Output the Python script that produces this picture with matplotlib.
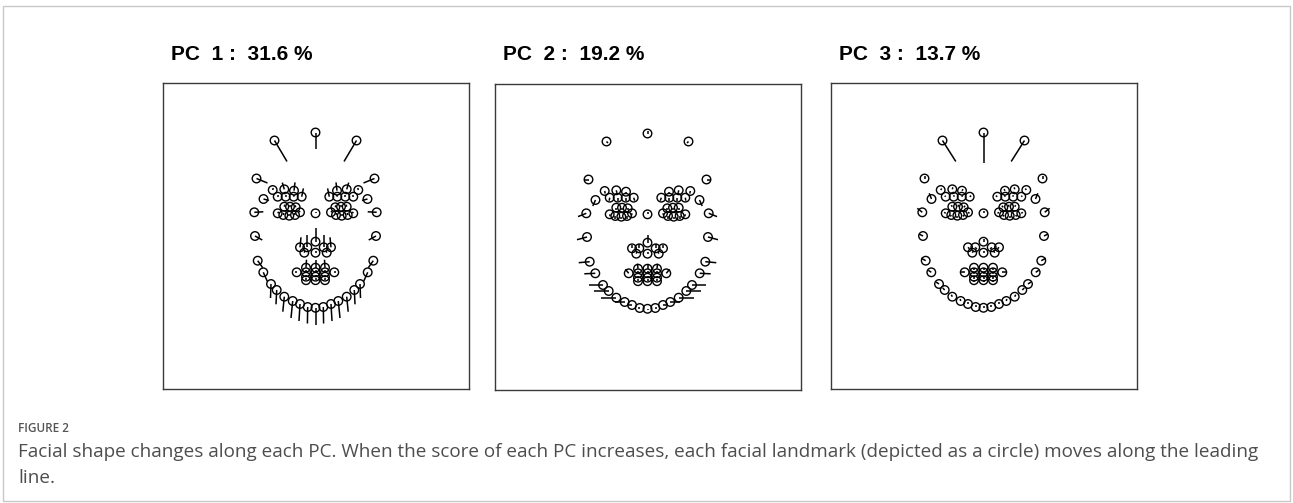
import matplotlib.pyplot as plt
from matplotlib.patches import Rectangle

# Mean landmark positions (pixels inside a 306 x 306 panel, y downwards).
# Midline landmarks share one x; side landmarks are given for the left half
# and mirrored to the right.
mid_x = 152.5
mid_y = [49.5, 130.3, 158.7, 169.7, 184.7, 189.3, 193.7, 197.2, 224.8]

side_x = [111.5, 93.5, 109.7, 121.3, 131.0, 114.7, 122.7, 130.7, 138.7, 100.5,
          121.3, 127.0, 132.7, 114.7, 120.3, 126.3, 132.0, 137.0, 91.3, 92.0,
          137.0, 144.3, 141.3, 133.7, 143.0, 143.0, 143.0, 143.0,
          94.7, 100.3, 108.0, 113.7, 121.3, 129.7, 137.0, 144.7]
side_y = [57.5, 95.5, 107.0, 106.3, 107.7, 113.7, 113.7, 113.7, 113.7, 116.0,
          123.7, 123.7, 124.3, 130.3, 132.0, 132.7, 132.0, 129.3, 129.3, 153.0,
          164.3, 164.3, 169.7, 189.3, 184.7, 189.3, 193.7, 197.2,
          177.7, 189.3, 201.0, 207.0, 213.7, 218.0, 221.0, 224.0]

# Shift of each landmark as the PC score increases
pc1_mid_dy = [16.5, -1.5, -13.5, -2.0, -8.0, -2.0, -2.0, -2.0, 17.5]
pc1_side_dx = [12.5, 11.0, 0.5, -2.0, 1.0, 0.0, 0.0, 0.5, 1.7, 5.5,
               0.5, 0.0, -0.5, 1.0, 0.5, 0.0, -0.5, -1.0, 9.0, 7.3,
               1.0, 0.0, 0.5, -2.0, 0.5, 0.0, 0.0, 0.0,
               5.0, 4.0, -0.5, -0.7, -1.5, -1.7, -1.0, -0.3]
pc1_side_dy = [21.0, 4.5, -2.0, -6.7, -8.3, -2.0, -2.0, -2.0, -8.3, 1.5,
               -2.0, -2.0, -2.0, -1.5, -2.0, -2.0, -2.0, -1.5, -0.5, 4.0,
               -10.0, -12.0, -2.0, 0.0, -8.0, -2.0, -2.0, -2.0,
               7.0, 9.0, 14.0, 14.3, 15.0, 17.0, 17.0, 16.5]

pc2_mid_dy = [-2.5, -2.0, -7.5, -2.0, -5.0, -2.0, -2.0, -2.0, 1.5]
pc2_side_dx = [1.5, -4.5, 0.5, 0.5, 0.0, -0.5, 0.0, 0.0, 1.0, -2.7,
               0.0, 0.0, 0.0, 0.5, 0.0, 0.0, 0.0, -0.5, -8.3, -10.0,
               0.0, 0.0, 0.5, -3.3, -0.5, 0.0, 0.0, 0.0,
               -11.0, -11.0, -14.0, -15.0, -15.0, -10.0, -5.0, -2.0]
pc2_side_dy = [1.5, 0.0, 2.5, 2.5, 2.5, 3.0, 3.0, 3.0, 3.0, 6.0,
               2.0, 2.0, 2.0, 2.0, 2.5, 2.5, 2.5, 2.0, 3.3, 2.7,
               -3.5, -4.0, -2.0, -4.0, -5.0, -2.0, -2.0, -2.0,
               1.0, 0.5, 0.0, 0.0, 0.0, 0.0, 0.0, 0.0]

pc3_mid_dy = [30.0, -2.0, -2.5, -2.0, 2.0, 2.0, 2.0, 2.0, -2.0]
pc3_side_dx = [13.3, 0.0, 1.0, 0.5, 1.0, -1.0, 0.5, 1.0, 1.5, -2.3,
               -1.0, 0.5, 1.5, -1.5, -1.0, 0.0, 1.0, 1.5, -5.0, -4.0,
               1.5, 1.5, 1.5, -4.0, 0.0, 0.0, 0.0, 0.0,
               -4.5, -3.0, -3.0, -2.0, -1.0, -0.5, 0.0, 0.0]
pc3_side_dy = [21.0, -2.5, -1.5, -2.0, -1.5, -1.0, -1.5, -1.5, -1.0, -5.7,
               -1.5, -2.0, -1.5, -1.0, 1.5, 2.0, 1.5, 1.0, -4.0, -2.0,
               1.5, 2.0, -2.0, 0.0, 2.0, 2.0, 2.0, 2.0,
               -2.5, -2.0, -2.0, -2.0, -2.0, -2.0, -2.0, -2.0]

pc_titles = ["PC  1 :  31.6 %", "PC  2 :  19.2 %", "PC  3 :  13.7 %"]
pc_mid_dy = [pc1_mid_dy, pc2_mid_dy, pc3_mid_dy]
pc_side_dx = [pc1_side_dx, pc2_side_dx, pc3_side_dx]
pc_side_dy = [pc1_side_dy, pc2_side_dy, pc3_side_dy]

W, H = 1293, 503
panel_left = [163, 495, 831]
panel_top = [83, 84, 83]
panel_size = 306

fig = plt.figure(figsize=(W / 100, H / 100), dpi=100)
fig.add_artist(Rectangle((3 / W, 2 / H), 1287 / W, 495 / H, transform=fig.transFigure,
                         fill=False, edgecolor="#c8c8c8", linewidth=1.0))

for k in range(3):
    left = panel_left[k] / W
    bottom = (H - panel_top[k] - panel_size) / H
    ax = fig.add_axes([left, bottom, panel_size / W, panel_size / H])
    ax.set_xlim(0, panel_size)
    ax.set_ylim(panel_size, 0)
    ax.set_xticks([])
    ax.set_yticks([])
    for s in ax.spines.values():
        s.set_color("#3a3a3a")
        s.set_linewidth(1.0)

    xs, ys, dxs, dys = [], [], [], []
    for y, dy in zip(mid_y, pc_mid_dy[k]):
        xs.append(mid_x); ys.append(y); dxs.append(0.0); dys.append(dy)
    for x, y, dx, dy in zip(side_x, side_y, pc_side_dx[k], pc_side_dy[k]):
        xs += [x, 2 * mid_x - x]
        ys += [y, y]
        dxs += [dx, -dx]
        dys += [dy, dy]

    for x, y, dx, dy in zip(xs, ys, dxs, dys):
        ax.plot([x, x + dx], [y, y + dy], color="black", linewidth=1.1,
                solid_capstyle="butt")
    ax.scatter(xs, ys, s=38, facecolors="none", edgecolors="black", linewidths=1.0)

    fig.text((panel_left[k] + 8) / W, 1 - 55 / H, pc_titles[k], fontsize=15,
             fontweight="bold", family="Liberation Sans", va="center", ha="left")

fig.text(18 / W, 1 - 428 / H, "FIGURE 2", fontsize=8.5, color="#555555",
         family="Open Sans", fontweight="semibold", va="center")
fig.text(18 / W, 1 - 452 / H,
         "Facial shape changes along each PC. When the score of each PC increases, "
         "each facial landmark (depicted as a circle) moves along the leading",
         fontsize=13.6, color="#4d4d4d", family="Open Sans", va="center")
fig.text(18 / W, 1 - 478 / H, "line.", fontsize=13.6, color="#4d4d4d",
         family="Open Sans", va="center")

fig.savefig("out.png", dpi=100)
